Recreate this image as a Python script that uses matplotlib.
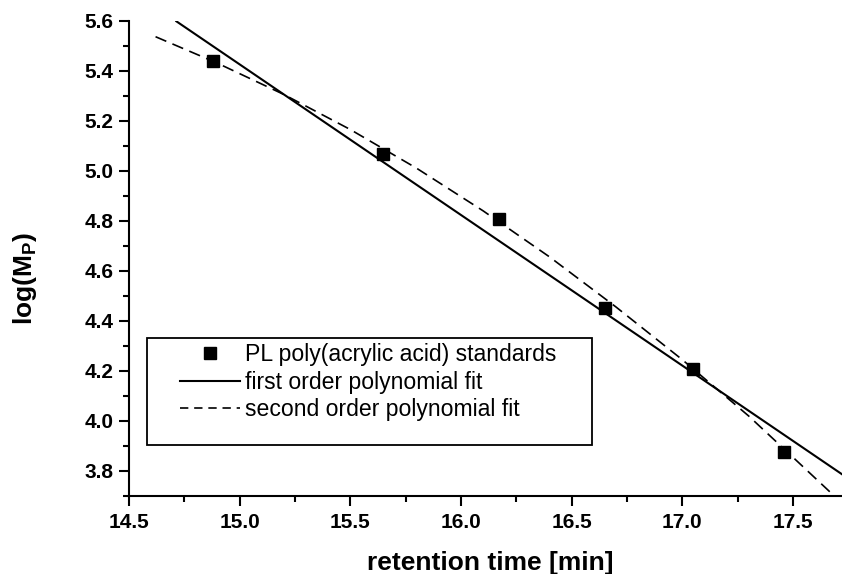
import matplotlib
matplotlib.use("Agg")
import matplotlib.pyplot as plt
from matplotlib.patches import Rectangle
from matplotlib.ticker import MultipleLocator, FormatStrFormatter
from matplotlib.lines import Line2D

plt.rcParams['font.family'] = ['Liberation Sans', 'DejaVu Sans']
plt.rcParams['mathtext.fontset'] = 'custom'
plt.rcParams['mathtext.bf'] = 'Liberation Sans:bold'
plt.rcParams['mathtext.rm'] = 'Liberation Sans'

# data: PL poly(acrylic acid) standards
retention_time = [14.88, 15.65, 16.17, 16.65, 17.05, 17.46]
log_mp = [5.44, 5.067, 4.806, 4.451, 4.206, 3.876]

# first order polynomial fit
fit1_x = [14.71, 17.75]
fit1_y = [5.60, 3.77]

# second order polynomial fit
fit2_x = [14.62, 14.90, 15.20, 15.50, 15.80, 16.10, 16.40, 16.70, 17.00, 17.30, 17.50, 17.675]
fit2_y = [5.536, 5.43, 5.305, 5.165, 5.01, 4.84, 4.656, 4.456, 4.245, 4.02, 3.855, 3.71]

legend_labels = ['PL poly(acrylic acid) standards',
                 'first order polynomial fit',
                 'second order polynomial fit']

fig = plt.figure(figsize=(8.42, 5.74), dpi=100)
ax = fig.add_axes([129/842, 1-496/574, 1-129/842, (496-20.7)/574])

ax.plot(fit1_x, fit1_y, color='black', lw=1.5, solid_capstyle='butt')
ax.plot(fit2_x, fit2_y, color='black', lw=1.2, linestyle=(0, (7, 4)))
ax.plot(retention_time, log_mp, linestyle='none', marker='s', ms=8.5,
        color='black', clip_on=False)

ax.set_xlim(14.5, 14.5 + (842-129)/221.3)
ax.set_ylim(3.7, 5.6)
ax.xaxis.set_major_locator(MultipleLocator(0.5))
ax.xaxis.set_minor_locator(MultipleLocator(0.25))
ax.yaxis.set_major_locator(MultipleLocator(0.2))
ax.yaxis.set_minor_locator(MultipleLocator(0.1))
ax.xaxis.set_major_formatter(FormatStrFormatter('%.1f'))
ax.yaxis.set_major_formatter(FormatStrFormatter('%.1f'))

for s in ['top', 'right']:
    ax.spines[s].set_visible(False)
for s in ['left', 'bottom']:
    ax.spines[s].set_linewidth(1.5)

ax.tick_params(which='major', direction='out', length=7, width=1.5,
               labelsize=15)
ax.tick_params(axis='y', which='major', pad=4)
ax.tick_params(axis='x', which='major', pad=5.5)
ax.tick_params(which='minor', direction='out', length=4, width=1.5)
for lab in ax.get_xticklabels() + ax.get_yticklabels():
    lab.set_fontweight('bold')

ax.set_xlabel('retention time [min]', fontsize=19, fontweight='bold')
ax.xaxis.set_label_coords((490-129)/713, (496-563)/475.3)
ax.xaxis.label.set_verticalalignment('center')
ax.set_ylabel(r'log(M$_\mathbf{P}$)', fontsize=19, fontweight='bold')
ax.yaxis.set_label_coords((25-129)/713, (496-278)/475.3)
ax.yaxis.label.set_verticalalignment('center')

# legend frame
ax.add_patch(Rectangle(((147-129)/713, (496-445)/475.3),
                       (592-147)/713, (445-338)/475.3,
                       transform=ax.transAxes, fill=True, facecolor='white',
                       edgecolor='black', lw=1.3, zorder=4))

handles = [Line2D([], [], linestyle='none', marker='s', ms=8.5, color='black'),
           Line2D([], [], color='black', lw=1.5),
           Line2D([], [], color='black', lw=1.2, linestyle=(0, (5, 3.5)))]
leg = ax.legend(handles, legend_labels, loc='upper left',
                bbox_to_anchor=((180-129)/713, (496-343)/475.3),
                borderaxespad=0, borderpad=0, frameon=False, fontsize=16.6,
                handlelength=2.6, handletextpad=0.2, labelspacing=0.2,
                numpoints=1)
leg.set_zorder(5)

fig.savefig('out.png', dpi=100)
